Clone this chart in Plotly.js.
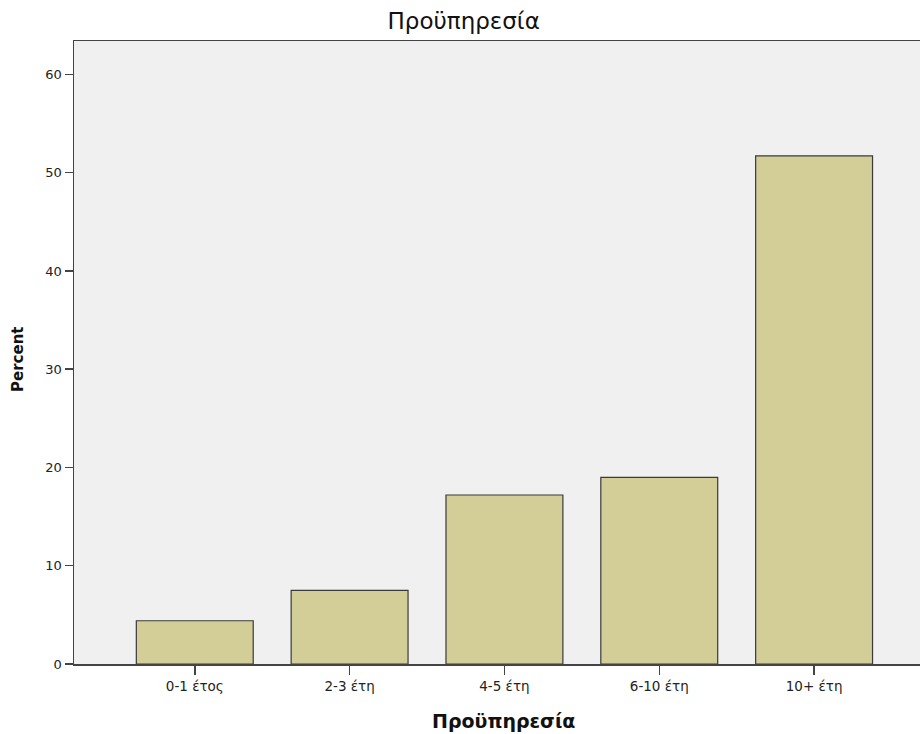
<!DOCTYPE html>
<html>
<head>
<meta charset="utf-8">
<script src="https://cdn.plot.ly/plotly-3.0.1.min.js"></script>
<style>html,body{margin:0;padding:0;background:#fff;}#chart{width:920px;height:734px;}</style>
</head>
<body>
<div id="chart"></div>
<script>
const categories = ["0-1 έτος", "2-3 έτη", "4-5 έτη", "6-10 έτη", "10+ έτη"];
const percents = [4.4, 7.5, 17.2, 19.0, 51.7];
const yTicks = [0, 10, 20, 30, 40, 50, 60];

const trace = {
  type: "bar",
  x: categories,
  y: percents,
  marker: {color: "#d3ce97", line: {color: "#3a3a3a", width: 1.2}},
  hoverinfo: "x+y"
};

const layout = {
  width: 920, height: 734,
  margin: {l: 74, r: 0, t: 41, b: 70},
  paper_bgcolor: "#ffffff",
  plot_bgcolor: "#f0f0f0",
  bargap: 0.245,
  showlegend: false,
  font: {family: "DejaVu Sans, Verdana, sans-serif", color: "#222", size: 13},
  title: {text: "Προϋπηρεσία", x: 0.504, xref: "container", y: 0.971, yref: "container", yanchor: "middle",
          font: {size: 23, color: "#111"}},
  xaxis: {
    type: "category",
    range: [-0.78, 4.684],
    showline: true, linecolor: "#444", linewidth: 1.5, mirror: true,
    ticks: "outside", ticklen: 9, tickwidth: 1.5, tickcolor: "#444",
    showgrid: false, zeroline: false,
    tickfont: {size: 13.5, color: "#222"}
  },
  yaxis: {
    range: [0, 63.4],
    tickvals: yTicks,
    showline: true, linecolor: "#444", linewidth: 1.5,
    ticks: "outside", ticklen: 8, tickwidth: 1.5, tickcolor: "#444",
    showgrid: false, zeroline: false,
    tickfont: {size: 13, color: "#222"}
  },
  annotations: [{
    text: "<b>Percent</b>", xref: "paper", yref: "paper", x: 0, xshift: -56, y: 0.488,
    textangle: -90, showarrow: false, xanchor: "center", yanchor: "middle",
    font: {size: 15, color: "#111"}
  }, {
    text: "<b>Προϋπηρεσία</b>", xref: "paper", yref: "paper", x: 0.508, y: 0, yshift: -57,
    showarrow: false, xanchor: "center", yanchor: "middle",
    font: {size: 19, color: "#111"}
  }]
};

Plotly.newPlot("chart", [trace], layout, {displayModeBar: false, staticPlot: true});
</script>
</body>
</html>
